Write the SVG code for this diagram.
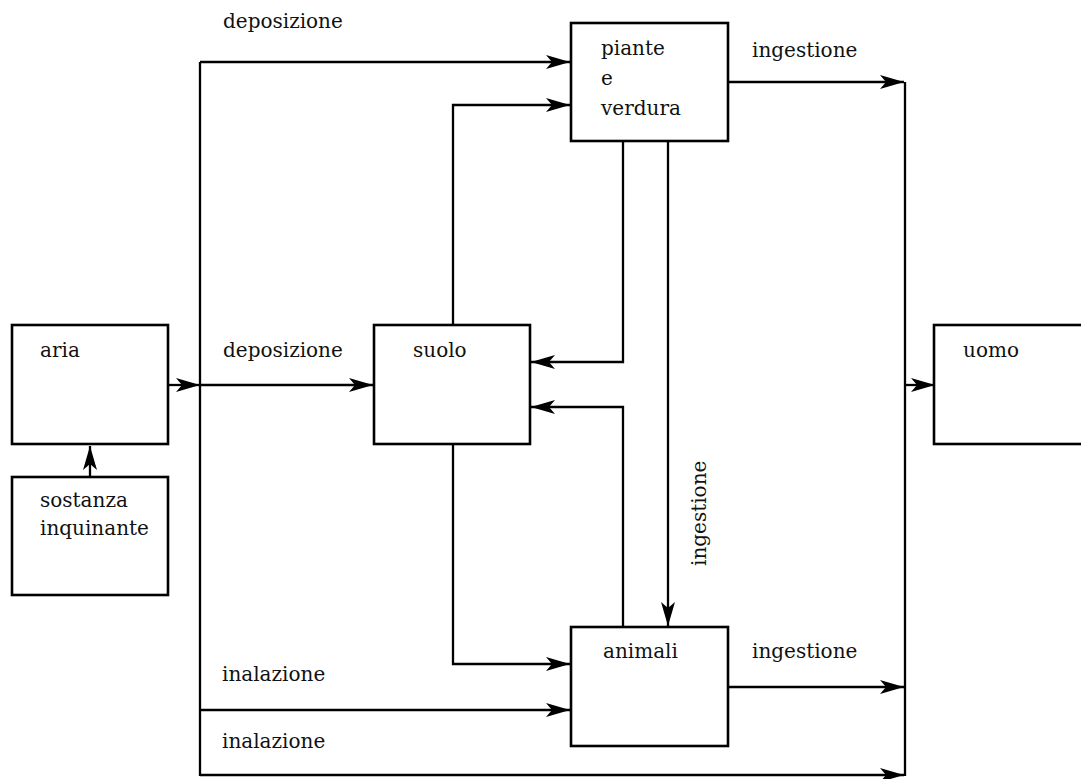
<svg xmlns="http://www.w3.org/2000/svg" width="1081" height="779" viewBox="0 0 1081 779">
  <style>
    .box { fill: #ffffff; stroke: #000000; stroke-width: 2.6; }
    .wire { fill: none; stroke: #000000; stroke-width: 2.3; }
    .lbl { font-family: "DejaVu Serif", "Liberation Serif", serif; font-size: 20px; fill: #111111; }
  </style>
  <defs>
    <marker id="arr" viewBox="0 0 24 14" refX="24" refY="7" markerWidth="24" markerHeight="14" markerUnits="userSpaceOnUse" orient="auto">
      <path d="M0,0 L24,7 L0,14 L6,7 Z" fill="#000000"/>
    </marker>
  </defs>

  <rect width="1081" height="779" fill="#ffffff"/>

  <!-- connectors -->
  <g id="connectors" class="wire">
    <!-- left distribution bus -->
    <path d="M200,62 L200,776"/>
    <!-- right collection bus -->
    <path d="M905,82 L905,776"/>
    <!-- sostanza inquinante -> aria -->
    <path d="M90,477 L90,446" marker-end="url(#arr)"/>
    <!-- aria -> bus -->
    <path d="M168,385 L200,385" marker-end="url(#arr)"/>
    <!-- deposizione -> suolo -->
    <path d="M200,385 L373,385" marker-end="url(#arr)"/>
    <!-- deposizione -> piante -->
    <path d="M200,62 L570,62" marker-end="url(#arr)"/>
    <!-- suolo -> piante -->
    <path d="M453,325 L453,105 L570,105" marker-end="url(#arr)"/>
    <!-- piante -> suolo -->
    <path d="M623,141 L623,362 L531,362" marker-end="url(#arr)"/>
    <!-- animali -> suolo -->
    <path d="M623,627 L623,407 L531,407" marker-end="url(#arr)"/>
    <!-- piante -> animali (ingestione) -->
    <path d="M668,141 L668,626" marker-end="url(#arr)"/>
    <!-- suolo -> animali -->
    <path d="M453,444 L453,664 L570,664" marker-end="url(#arr)"/>
    <!-- inalazione -> animali -->
    <path d="M200,710 L570,710" marker-end="url(#arr)"/>
    <!-- ingestione from piante -->
    <path d="M728,82 L904,82" marker-end="url(#arr)"/>
    <!-- ingestione from animali -->
    <path d="M728,687 L904,687" marker-end="url(#arr)"/>
    <!-- inalazione, direct -->
    <path d="M200,775 L904,775" marker-end="url(#arr)"/>
    <!-- bus -> uomo -->
    <path d="M905,385 L935,385" marker-end="url(#arr)"/>
  </g>

  <!-- nodes -->
  <g id="aria">
    <rect class="box" x="12" y="325" width="156" height="119"/>
    <text class="lbl" x="40" y="357">aria</text>
  </g>
  <g id="sostanza">
    <rect class="box" x="12" y="477" width="156" height="118"/>
    <text class="lbl" x="40" y="507">sostanza</text>
    <text class="lbl" x="40" y="535">inquinante</text>
  </g>
  <g id="suolo">
    <rect class="box" x="374" y="325" width="156" height="119"/>
    <text class="lbl" x="413" y="357">suolo</text>
  </g>
  <g id="piante">
    <rect class="box" x="571" y="23" width="157" height="118"/>
    <text class="lbl" x="601" y="55">piante</text>
    <text class="lbl" x="601" y="85">e</text>
    <text class="lbl" x="601" y="115">verdura</text>
  </g>
  <g id="animali">
    <rect class="box" x="571" y="627" width="157" height="119"/>
    <text class="lbl" x="603" y="658">animali</text>
  </g>
  <g id="uomo">
    <rect class="box" x="934" y="325" width="160" height="119"/>
    <text class="lbl" x="963" y="357">uomo</text>
  </g>

  <!-- flow labels -->
  <g id="labels">
    <text class="lbl" x="223" y="28">deposizione</text>
    <text class="lbl" x="752" y="57">ingestione</text>
    <text class="lbl" x="223" y="357">deposizione</text>
    <text class="lbl" x="752" y="658">ingestione</text>
    <text class="lbl" x="222" y="681">inalazione</text>
    <text class="lbl" x="222" y="748">inalazione</text>
    <text class="lbl" transform="translate(706,566) rotate(-90)">ingestione</text>
  </g>
</svg>
